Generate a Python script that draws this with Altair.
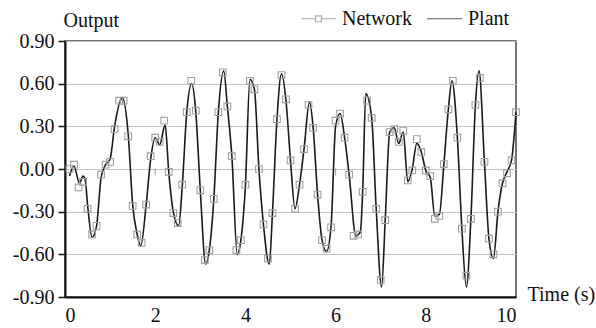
import altair as alt
import pandas as pd

# ---- Network (model) samples ----
net_t = [0.1, 0.2, 0.3, 0.4, 0.5, 0.6, 0.7, 0.8, 0.9, 1.0,
         1.1, 1.2, 1.3, 1.4, 1.5, 1.6, 1.7, 1.8, 1.9, 2.0,
         2.1, 2.2, 2.3, 2.4, 2.5, 2.6, 2.7, 2.8, 2.9, 3.0,
         3.1, 3.2, 3.3, 3.4, 3.5, 3.6, 3.7, 3.8, 3.9, 4.0,
         4.1, 4.2, 4.3, 4.4, 4.5, 4.6, 4.7, 4.8, 4.9, 5.0,
         5.1, 5.2, 5.3, 5.4, 5.5, 5.6, 5.7, 5.8, 5.9, 6.0,
         6.1, 6.2, 6.3, 6.4, 6.5, 6.6, 6.7, 6.8, 6.9, 7.0,
         7.1, 7.2, 7.3, 7.4, 7.5, 7.6, 7.7, 7.8, 7.9, 8.0,
         8.1, 8.2, 8.3, 8.4, 8.5, 8.6, 8.7, 8.8, 8.9, 9.0,
         9.1, 9.2, 9.3, 9.4, 9.5, 9.6, 9.7, 9.8, 9.9, 10.0]
net_v = [0.00, 0.03, -0.13, -0.09, -0.28, -0.46, -0.40, -0.04, 0.03, 0.05,
         0.28, 0.48, 0.48, 0.23, -0.26, -0.46, -0.52, -0.25, 0.09, 0.22,
         0.19, 0.34, -0.02, -0.31, -0.38, -0.11, 0.40, 0.62, 0.41, -0.15,
         -0.64, -0.57, -0.21, 0.40, 0.68, 0.44, 0.09, -0.57, -0.50, -0.11,
         0.62, 0.56, 0.00, -0.39, -0.63, -0.31, 0.35, 0.66, 0.49, 0.06,
         -0.28, -0.11, 0.14, 0.45, 0.29, -0.18, -0.50, -0.56, -0.41, 0.34,
         0.39, 0.22, -0.04, -0.47, -0.46, -0.16, 0.48, 0.36, -0.28, -0.78,
         -0.36, 0.26, 0.28, 0.19, 0.27, -0.08, -0.01, 0.21, 0.12, -0.01,
         -0.05, -0.35, -0.33, 0.035, 0.42, 0.62, 0.22, -0.42, -0.75, -0.35,
         0.45, 0.64, 0.05, -0.49, -0.60, -0.30, -0.10, -0.03, 0.06, 0.40]

# ---- Plant (measured) curve ----
plant_t = [0.1, 0.2, 0.32, 0.4, 0.45, 0.5, 0.6, 0.7, 0.8, 0.9, 1.0,
           1.1, 1.27, 1.4, 1.5, 1.6, 1.68, 1.8, 1.9, 2.0,
           2.1, 2.22, 2.3, 2.4, 2.52, 2.6, 2.7, 2.81, 2.9, 3.0,
           3.12, 3.2, 3.3, 3.4, 3.52, 3.6, 3.7, 3.82, 3.9, 4.0,
           4.1, 4.2, 4.3, 4.4, 4.53, 4.6, 4.7, 4.8, 4.9, 5.0,
           5.1, 5.2, 5.3, 5.42, 5.5, 5.6, 5.7, 5.8, 5.9, 6.0,
           6.1, 6.2, 6.3, 6.45, 6.55, 6.6, 6.67, 6.8, 6.9, 7.02,
           7.1, 7.2, 7.3, 7.4, 7.5, 7.6, 7.7, 7.8, 7.9, 8.0,
           8.1, 8.2, 8.3, 8.4, 8.5, 8.58, 8.7, 8.8, 8.9, 9.0,
           9.1, 9.18, 9.3, 9.4, 9.5, 9.6, 9.7, 9.8, 9.9, 10.0]
plant_v = [-0.05, 0.02, -0.10, -0.05, -0.08, -0.25, -0.48, -0.40, -0.06, 0.03, 0.07,
           0.30, 0.50, 0.25, -0.25, -0.46, -0.54, -0.25, 0.07, 0.22,
           0.17, 0.31, -0.02, -0.30, -0.40, -0.12, 0.40, 0.60, 0.40, -0.15,
           -0.67, -0.57, -0.21, 0.40, 0.69, 0.44, 0.09, -0.60, -0.50, -0.12,
           0.63, 0.56, 0.00, -0.39, -0.67, -0.31, 0.35, 0.67, 0.48, 0.06,
           -0.28, -0.11, 0.14, 0.47, 0.30, -0.18, -0.50, -0.58, -0.40, 0.30,
           0.39, 0.22, -0.04, -0.47, -0.44, -0.16, 0.53, 0.36, -0.28, -0.83,
           -0.36, 0.26, 0.29, 0.18, 0.26, -0.09, 0.00, 0.18, 0.12, -0.01,
           -0.06, -0.33, -0.32, 0.03, 0.42, 0.62, 0.22, -0.42, -0.83, -0.35,
           0.45, 0.69, 0.05, -0.49, -0.63, -0.30, -0.10, -0.02, 0.06, 0.40]

y_ticks = [-0.9, -0.6, -0.3, 0.0, 0.3, 0.6, 0.9]
x_ticks = [0, 2, 4, 6, 8, 10]
zero_ticks = [2, 4, 6, 8]
legend_names = ["Network", "Plant"]

FONT = "Liberation Serif"
net_df = pd.DataFrame({"t": net_t, "v": net_v})
plant_df = pd.DataFrame({"t": plant_t, "v": plant_v})
zt_df = pd.DataFrame({"t": zero_ticks, "v": [0.0] * len(zero_ticks)})
leg_df = pd.DataFrame({"series": legend_names})

xs = alt.Scale(domain=[0, 10], nice=False, zero=False)
ys = alt.Scale(domain=[-0.9, 0.9], nice=False, zero=False)

x_axis = alt.Axis(values=x_ticks, grid=False, ticks=False, tickSize=0,
                  labelPadding=8, title="Time (s)", titleAngle=0,
                  titleX=462, titleY=3, titleAlign="left",
                  titleBaseline="alphabetic", domainColor="#111",
                  domainWidth=2)
y_axis = alt.Axis(values=y_ticks, grid=True, gridColor="#c4c4c4",
                  gridWidth=1, tickSize=7, tickColor="#111", tickWidth=1.5,
                  labelPadding=4,
                  labelExpr="replace(format(datum.value, '.2f'), '\u2212', '-')",
                  title="Output", titleAngle=0, titleX=-2, titleY=-15,
                  titleAlign="left", titleBaseline="alphabetic",
                  domainColor="#111", domainWidth=2)

plant = alt.Chart(plant_df).mark_line(
    color="#1a1a1a", strokeWidth=1.6, interpolate="monotone"
).encode(
    x=alt.X("t:Q", scale=xs, axis=x_axis),
    y=alt.Y("v:Q", scale=ys, axis=y_axis),
)

zt = alt.Chart(zt_df).mark_tick(
    orient="vertical", size=7, thickness=1, color="#777", yOffset=3
).encode(x=alt.X("t:Q", scale=xs), y=alt.Y("v:Q", scale=ys))

net = alt.Chart(net_df).mark_point(
    shape="square", filled=False, size=44, color="#a0a0a0",
    strokeWidth=1.1, opacity=1
).encode(x=alt.X("t:Q", scale=xs), y=alt.Y("v:Q", scale=ys))

net_sym = "M-1,0L-0.17,0M0.17,0L1,0M-0.17,-0.17L0.17,-0.17L0.17,0.17L-0.17,0.17Z"
plant_sym = "M-1,0L1,0"
leg = alt.Legend(title=None, orient="none", legendX=235, legendY=-41,
                 direction="horizontal", symbolSize=1225, labelFont=FONT,
                 labelFontSize=20, labelColor="#111", labelOffset=5,
                 columnPadding=12, padding=0, symbolStrokeWidth=1.2)
carrier = alt.Chart(leg_df).transform_filter("false").mark_point(
    filled=False, strokeWidth=1.2
).encode(
    color=alt.Color("series:N", scale=alt.Scale(domain=legend_names,
                    range=["#8a8a8a", "#111111"]), legend=leg),
    shape=alt.Shape("series:N", scale=alt.Scale(domain=legend_names,
                    range=[net_sym, plant_sym]), legend=leg),
)

chart = alt.layer(zt, plant, net, carrier).properties(
    width=451, height=256,
    padding={"left": 65, "top": 41, "right": 80, "bottom": 31},
    autosize=alt.AutoSizeParams(type="none"),
    background="white",
).configure_view(stroke="#444", strokeWidth=1.5).configure_axis(
    labelFont=FONT, labelFontSize=20, labelColor="#111",
    titleFont=FONT, titleFontSize=20, titleColor="#111", titleFontWeight="normal",
)

chart.save("out.html", embed_options={"renderer": "svg", "actions": False})
